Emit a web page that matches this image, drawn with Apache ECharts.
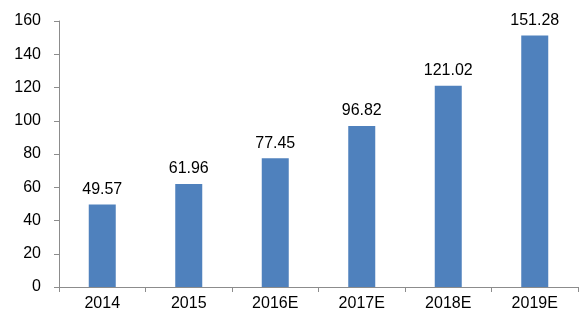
<!DOCTYPE html>
<html><head><meta charset="utf-8">
<script src="https://cdn.jsdelivr.net/npm/echarts@6/dist/echarts.min.js"></script>
<style>html,body{margin:0;padding:0;background:#fff}#c{width:583px;height:320px}</style>
</head><body><div id="c"></div>
<script>
const categories = ['2014','2015','2016E','2017E','2018E','2019E'];
const values = [49.57, 61.96, 77.45, 96.82, 121.02, 151.28];
const yTicks = [0,20,40,60,80,100,120,140,160];

const chart = echarts.init(document.getElementById('c'));
chart.setOption({
  animation:false,
  grid:{left:59,right:5,top:21,bottom:33,containLabel:false},
  xAxis:{type:'category',data:categories,
    axisLine:{lineStyle:{color:'#8c8c8c',width:1}},
    axisTick:{show:true,length:5,alignWithLabel:false,lineStyle:{color:'#8c8c8c'}},
    axisLabel:{color:'#000',fontFamily:'Liberation Sans, Arial',fontSize:16,margin:9}},
  yAxis:{type:'value',min:yTicks[0],max:yTicks[yTicks.length-1],interval:20,
    axisLine:{show:true,lineStyle:{color:'#8c8c8c',width:1}},
    axisTick:{show:true,length:5,lineStyle:{color:'#8c8c8c'}},
    splitLine:{show:false},
    axisLabel:{color:'#000',fontFamily:'Liberation Sans, Arial',fontSize:16,margin:18}},
  series:[{type:'bar',data:values,barWidth:27,
    itemStyle:{color:'#4f81bd'},
    label:{show:true,position:'top',distance:7,color:'#000',fontFamily:'Liberation Sans, Arial',fontSize:16,
      formatter:p=>p.value.toFixed(2)}}]
});
</script></body></html>
